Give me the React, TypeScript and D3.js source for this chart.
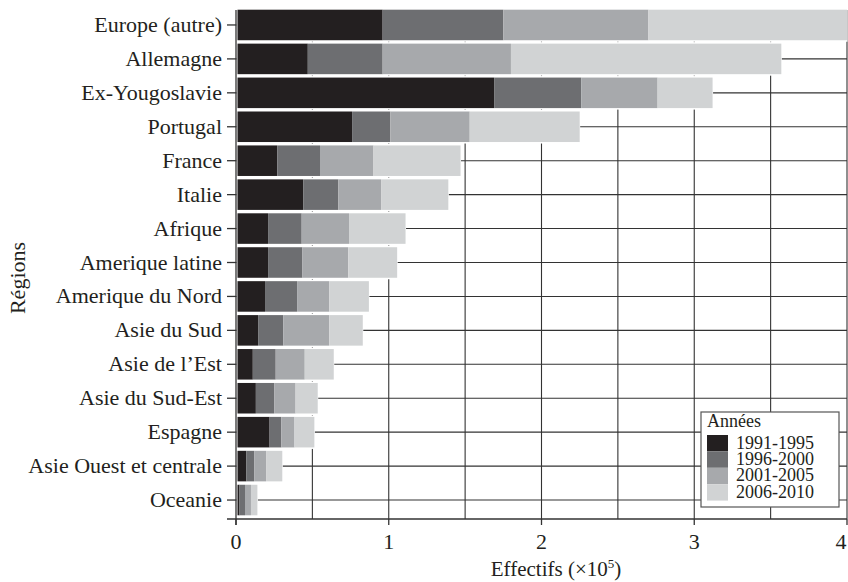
import React, { useRef, useEffect } from 'react';
import * as d3 from 'd3';

const regions = [
  'Europe (autre)',
  'Allemagne',
  'Ex-Yougoslavie',
  'Portugal',
  'France',
  'Italie',
  'Afrique',
  'Amerique latine',
  'Amerique du Nord',
  'Asie du Sud',
  'Asie de l\u2019Est',
  'Asie du Sud-Est',
  'Espagne',
  'Asie Ouest et centrale',
  'Oceanie',
];

const periods = ['1991-1995', '1996-2000', '2001-2005', '2006-2010'];

// effectifs (x 10^5) per period
const p1991 = [0.96, 0.47, 1.69, 0.76, 0.27, 0.44, 0.21, 0.21, 0.19, 0.145, 0.11, 0.13, 0.22, 0.067, 0.023];
const p1996 = [0.79, 0.49, 0.57, 0.25, 0.28, 0.23, 0.22, 0.225, 0.21, 0.165, 0.15, 0.12, 0.077, 0.052, 0.036];
const p2001 = [0.95, 0.84, 0.5, 0.52, 0.35, 0.28, 0.31, 0.3, 0.21, 0.3, 0.19, 0.14, 0.086, 0.078, 0.039];
const p2006 = [1.3, 1.77, 0.36, 0.72, 0.57, 0.44, 0.37, 0.32, 0.26, 0.22, 0.19, 0.145, 0.13, 0.106, 0.042];

const xTicks = [0, 1, 2, 3, 4];
const gridTicks = [0.5, 1, 1.5, 2, 2.5, 3, 3.5, 4];

const colors = ['#231f20', '#6d6e71', '#a7a9ac', '#d1d3d4'];

const width = 848;
const height = 582;
const font = '"Liberation Serif", "Times New Roman", serif';

const App: React.FC = () => {
  const ref = useRef<SVGSVGElement | null>(null);

  useEffect(() => {
    if (!ref.current) return;
    const svg = d3.select<SVGSVGElement, unknown>(ref.current);
    svg.selectAll('*').remove();

    const left = 236;
    const right = 847;
    const top = 10;
    const bottom = 519;

    const x = d3.scaleLinear().domain([0, 4]).range([left, right]);
    const y = d3
      .scaleBand<string>()
      .domain(regions)
      .range([8, 517])
      .paddingInner(0.1)
      .paddingOuter(0.05);

    const rows = regions.map((r, i) => ({
      region: r,
      '1991-1995': p1991[i],
      '1996-2000': p1996[i],
      '2001-2005': p2001[i],
      '2006-2010': p2006[i],
    }));
    const series = d3.stack<any>().keys(periods)(rows);

    // grid
    const grid = svg.append('g').attr('stroke', '#333').attr('stroke-width', 1.1);
    gridTicks.forEach(t => {
      grid.append('line')
        .attr('x1', x(t)).attr('x2', x(t))
        .attr('y1', top).attr('y2', bottom);
    });
    regions.forEach(r => {
      const cy = y(r)! + y.bandwidth() / 2;
      grid.append('line')
        .attr('x1', left).attr('x2', right)
        .attr('y1', cy).attr('y2', cy);
    });

    // white backing behind each bar
    svg.append('g')
      .selectAll('rect')
      .data(rows)
      .enter()
      .append('rect')
      .attr('x', left + 0.5)
      .attr('y', d => y(d.region)! - 1.5)
      .attr('width', (d, i) => Math.min(x(p1991[i] + p1996[i] + p2001[i] + p2006[i]), right) - left)
      .attr('height', y.bandwidth() + 3)
      .attr('fill', '#fff');

    // stacked bars
    series.forEach((s, k) => {
      svg.append('g')
        .attr('fill', colors[k])
        .selectAll('rect')
        .data(s)
        .enter()
        .append('rect')
        .attr('x', d => x(d[0]) + (k === 0 ? 1.5 : 0))
        .attr('y', d => y(d.data.region)!)
        .attr('width', d => Math.max(0, Math.min(x(d[1]), right) - x(d[0]) - (k === 0 ? 1.5 : 0)))
        .attr('height', y.bandwidth());
    });

    // axes
    const axes = svg.append('g').attr('stroke', '#333').attr('stroke-width', 1.3);
    axes.append('line').attr('x1', left).attr('x2', left).attr('y1', top).attr('y2', bottom + 6);
    axes.append('line').attr('x1', left - 9).attr('x2', right).attr('y1', bottom).attr('y2', bottom);
    xTicks.forEach(t => {
      axes.append('line').attr('x1', x(t)).attr('x2', x(t)).attr('y1', bottom).attr('y2', bottom + 6);
    });
    regions.forEach(r => {
      const cy = y(r)! + y.bandwidth() / 2;
      axes.append('line').attr('x1', left - 9).attr('x2', left).attr('y1', cy).attr('y2', cy);
    });

    // labels
    const labels = svg.append('g')
      .style('font-family', font)
      .style('font-size', '22px')
      .attr('fill', '#231f20');
    regions.forEach(r => {
      labels.append('text')
        .attr('x', left - 14)
        .attr('y', y(r)! + y.bandwidth() / 2 + 7)
        .attr('text-anchor', 'end')
        .text(r);
    });
    xTicks.forEach(t => {
      labels.append('text')
        .attr('x', Math.min(x(t), right - 6))
        .attr('y', 549)
        .attr('text-anchor', 'middle')
        .text(String(t));
    });

    const xTitle = labels.append('text')
      .attr('x', 556)
      .attr('y', 576)
      .style('font-size', '21px')
      .attr('text-anchor', 'middle');
    xTitle.append('tspan').text('Effectifs (\u00d710');
    xTitle.append('tspan').attr('dy', -8).style('font-size', '13px').text('5');
    xTitle.append('tspan').attr('dy', 8).text(')');

    labels.append('text')
      .attr('transform', `translate(25, 278) rotate(-90)`)
      .attr('text-anchor', 'middle')
      .text('Régions');

    // legend
    const lg = svg.append('g').style('font-family', font).style('font-size', '18px');
    lg.append('rect')
      .attr('x', 701).attr('y', 412)
      .attr('width', 138).attr('height', 95)
      .attr('fill', '#fff')
      .attr('stroke', '#555')
      .attr('stroke-width', 1.2);
    lg.append('text').attr('x', 707).attr('y', 427).attr('fill', '#231f20').text('Années');
    periods.forEach((p, i) => {
      const sy = 435 + i * 16.4;
      lg.append('rect')
        .attr('x', 707).attr('y', sy)
        .attr('width', 21).attr('height', 16.4)
        .attr('fill', colors[i]);
      lg.append('text')
        .attr('x', 736).attr('y', sy + 13.5)
        .attr('fill', '#231f20')
        .text(p);
    });
  }, []);

  return (
    <svg
      ref={ref}
      width={width}
      height={height}
      style={{ position: 'absolute', left: 0, top: 0, background: '#fff' }}
    />
  );
};

export default App;
